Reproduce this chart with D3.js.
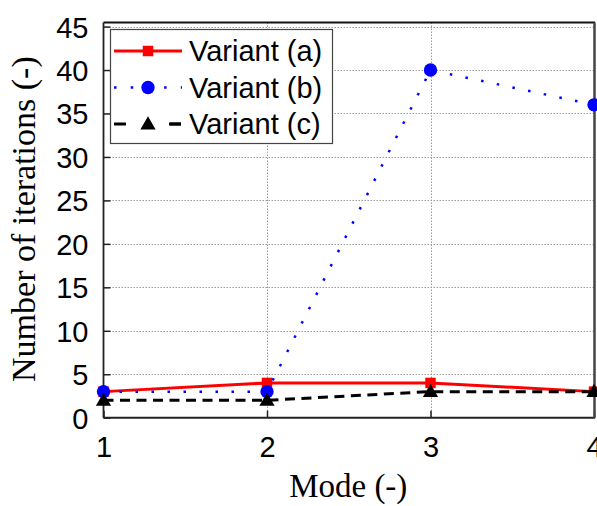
<!DOCTYPE html>
<html>
<head>
<meta charset="utf-8">
<script src="https://cdn.jsdelivr.net/npm/d3@7"></script>
<style>
  html, body { margin: 0; padding: 0; background: #fff; }
  svg { display: block; }
</style>
</head>
<body>
<svg id="chart" width="597" height="506"></svg>
<script>
// Iteration counts per mode for three solver variants
const modes = [1, 2, 3, 4];
const variantA = [3, 4, 4, 3];
const variantB = [3, 3, 40, 36];
const variantC = [2, 2, 3, 3];
const seriesNames = ["Variant (a)", "Variant (b)", "Variant (c)"];
const yTicks = [0, 5, 10, 15, 20, 25, 30, 35, 40, 45];
const xTicks = [1, 2, 3, 4];

const svg = d3.select("#chart");
const plot = { left: 103.5, right: 594, top: 22.5, bottom: 417.7 };

const x = d3.scaleLinear().domain([1, 4]).range([plot.left, plot.right]);
const y = d3.scaleLinear().domain([0, 45.47]).range([plot.bottom, plot.top]);

const sans = "'Liberation Sans', Arial, sans-serif";
const serif = "'Liberation Serif', 'Times New Roman', serif";

// grid
const grid = svg.append("g").attr("stroke", "#9a9a9a").attr("stroke-width", 1)
  .attr("stroke-dasharray", "1.5,1.5");
grid.selectAll("line.h").data(yTicks.filter(d => d > 0)).join("line")
  .attr("x1", plot.left).attr("x2", plot.right)
  .attr("y1", d => Math.round(y(d)) + 0.5).attr("y2", d => Math.round(y(d)) + 0.5);
grid.selectAll("line.v").data(xTicks.filter(d => d > 1 && d < 4)).join("line")
  .attr("y1", plot.top).attr("y2", plot.bottom)
  .attr("x1", d => Math.round(x(d)) + 0.5).attr("x2", d => Math.round(x(d)) + 0.5);

// axes with inward ticks
const yAxis = d3.axisLeft(y).tickValues(yTicks).tickFormat(d3.format("d")).tickSize(-7).tickPadding(15);
const xAxis = d3.axisBottom(x).tickValues(xTicks).tickFormat(d3.format("d")).tickSize(-7).tickPadding(19);

const gy = svg.append("g").attr("transform", `translate(${plot.left},0)`).call(yAxis);
const gx = svg.append("g").attr("transform", `translate(0,${plot.bottom})`).call(xAxis);
[gy, gx].forEach(g => {
  g.select(".domain").remove();
  g.selectAll(".tick line").attr("stroke", "#222").attr("stroke-width", 1.5);
  g.selectAll(".tick text").attr("fill", "#000")
    .style("font-family", sans).style("font-size", "29px");
});
gy.selectAll(".tick text").attr("dy", "0.36em");
gx.selectAll(".tick text").attr("dy", "0.71em");

// frame
svg.append("line").attr("x1", plot.left).attr("x2", plot.right + 1)
  .attr("y1", plot.top).attr("y2", plot.top).attr("stroke", "#111").attr("stroke-width", 1.8);
svg.append("line").attr("x1", plot.left).attr("x2", plot.right + 1)
  .attr("y1", plot.bottom).attr("y2", plot.bottom).attr("stroke", "#222").attr("stroke-width", 2);
svg.append("line").attr("x1", plot.left).attr("x2", plot.left)
  .attr("y1", plot.top).attr("y2", plot.bottom).attr("stroke", "#222").attr("stroke-width", 1.8);
svg.append("line").attr("x1", plot.right + 0.5).attr("x2", plot.right + 0.5)
  .attr("y1", plot.top).attr("y2", plot.bottom).attr("stroke", "#444").attr("stroke-width", 2.5);

// marker symbols
const markers = {
  square: d3.symbol().type(d3.symbolSquare).size(110),
  circle: d3.symbol().type(d3.symbolCircle).size(140),
  triangle: d3.symbol().type(d3.symbolTriangle).size(100)
};

const series = [
  { name: seriesNames[0], values: variantA, color: "#ff0000", width: 3, dash: null, marker: "square" },
  { name: seriesNames[1], values: variantB, color: "#0000ff", width: 2.5, dash: "2.5,13.5", marker: "circle" },
  { name: seriesNames[2], values: variantC, color: "#000000", width: 3, dash: "10,6.5", marker: "triangle" }
];

const line = d3.line().x((d, i) => x(modes[i])).y(d => y(d));

series.forEach(s => {
  const g = svg.append("g");
  g.append("path").datum(s.values)
    .attr("d", line).attr("fill", "none")
    .attr("stroke", s.color).attr("stroke-width", s.width)
    .attr("stroke-dasharray", s.dash);
  g.selectAll("path.m").data(s.values).join("path")
    .attr("class", "m")
    .attr("d", markers[s.marker])
    .attr("transform", (d, i) => `translate(${x(modes[i])},${y(d) + (s.marker === "triangle" ? 1 : 0)})`)
    .attr("fill", s.color);
});

// legend
const legend = svg.append("g");
legend.append("rect")
  .attr("x", 110.5).attr("y", 29.5).attr("width", 222).attr("height", 114)
  .attr("fill", "#fff").attr("stroke", "#444").attr("stroke-width", 1.2);
const rowY = [51, 87.5, 124];
series.forEach((s, i) => {
  const r = legend.append("g").attr("transform", `translate(0,${rowY[i]})`);
  r.append("line").attr("x1", 114).attr("x2", 182).attr("y1", 0).attr("y2", 0)
    .attr("stroke", s.color).attr("stroke-width", s.width)
    .attr("stroke-dasharray", s.marker === "circle" ? "2.5,14.2" : (s.dash ? "12,43" : null));
  if (s.marker === "triangle") {
    r.append("line").attr("x1", 170).attr("x2", 181).attr("y1", 0).attr("y2", 0)
      .attr("stroke", s.color).attr("stroke-width", s.width);
  }
  r.append("path").attr("d", markers[s.marker])
    .attr("transform", `translate(148,${s.marker === "triangle" ? 1 : 0})`)
    .attr("fill", s.color);
  r.append("text").attr("x", 189).attr("y", 0).attr("dy", "0.36em")
    .style("font-family", sans).style("font-size", "29px").attr("fill", "#000")
    .text(s.name);
});

// axis titles
svg.append("text").attr("x", (plot.left + plot.right) / 2 - 0.5).attr("y", 497)
  .attr("text-anchor", "middle")
  .style("font-family", serif).style("font-size", "33px").attr("fill", "#000")
  .text("Mode (-)");
svg.append("text")
  .attr("transform", `translate(35,${(plot.top + plot.bottom) / 2 - 1}) rotate(-90)`)
  .attr("text-anchor", "middle")
  .style("font-family", serif).style("font-size", "34px").attr("fill", "#000")
  .text("Number of iterations (-)");
</script>
</body>
</html>
